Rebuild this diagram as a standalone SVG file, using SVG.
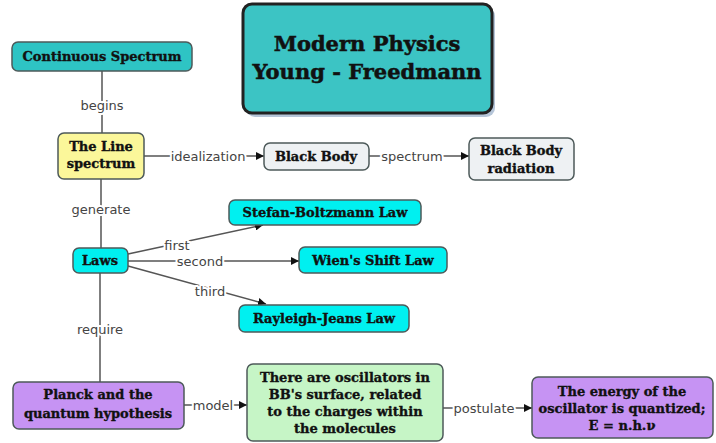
<svg xmlns="http://www.w3.org/2000/svg" width="716" height="443" viewBox="0 0 716 443">
<style>
.n{stroke:#4d5a5a;stroke-width:1.5}
.t{font-family:"DejaVu Serif","Liberation Serif",serif;font-weight:bold;font-size:13px;fill:#111;stroke:#111;stroke-width:0.35px;text-anchor:middle}
.l{font-family:"DejaVu Sans","Liberation Sans",sans-serif;font-size:13px;fill:#444;text-anchor:middle;stroke:#fff;stroke-width:4px;paint-order:stroke;stroke-linejoin:round}
.c{stroke:#555;stroke-width:1.5;fill:none}
.a{stroke:#555;stroke-width:1.5;fill:none;marker-end:url(#ar)}
</style>
<defs>
<marker id="ar" viewBox="0 0 10 10" refX="10" refY="5" markerWidth="8" markerHeight="8" markerUnits="userSpaceOnUse" orient="auto"><path d="M0,0 L10,5 L0,10 z" fill="#111"/></marker>
</defs>
<rect width="716" height="443" fill="#fff"/>
<g id="connectors">
<line class="c" x1="102" y1="71" x2="102" y2="133"/>
<text class="l" x="102" y="110">begins</text>
<line class="a" x1="144" y1="156" x2="264" y2="156"/>
<text class="l" x="208" y="161">idealization</text>
<line class="a" x1="369" y1="156" x2="469" y2="156"/>
<text class="l" x="412" y="161">spectrum</text>
<line class="c" x1="101" y1="179" x2="101" y2="248"/>
<text class="l" x="101" y="214">generate</text>
<line class="a" x1="128" y1="254" x2="263" y2="225"/>
<text class="l" x="177" y="250">first</text>
<line class="a" x1="128" y1="261" x2="299" y2="261"/>
<text class="l" x="200" y="266">second</text>
<line class="a" x1="128" y1="266" x2="266" y2="304"/>
<text class="l" x="210" y="296">third</text>
<line class="c" x1="100" y1="273" x2="100" y2="382"/>
<text class="l" x="100" y="334">require</text>
<line class="a" x1="184" y1="405" x2="247" y2="405"/>
<text class="l" x="213" y="410">model</text>
<line class="a" x1="443" y1="408" x2="532" y2="408"/>
<text class="l" x="484" y="413">postulate</text>
</g>
<g id="title">
<rect x="246" y="7" width="249" height="110" rx="9" fill="#5a7fa8" opacity="0.45"/>
<rect x="243" y="4" width="249" height="109" rx="9" fill="#3cc4c4" stroke="#222" stroke-width="3"/>
<text class="t" x="367" y="51" style="font-size:21px;stroke-width:0.5px">Modern Physics</text>
<text class="t" x="367" y="79" style="font-size:21px;stroke-width:0.5px">Young - Freedmann</text>
</g>
<g id="continuous">
<rect class="n" x="12" y="42" width="180" height="29" rx="6" fill="#2ec4c4"/>
<text class="t" x="102" y="61">Continuous Spectrum</text>
</g>
<g id="line-spectrum">
<rect class="n" x="58" y="133" width="86" height="46" rx="6" fill="#fbf79a"/>
<text class="t" x="101" y="151">The Line</text>
<text class="t" x="101" y="168">spectrum</text>
</g>
<g id="black-body">
<rect class="n" x="264" y="143" width="105" height="27" rx="6" fill="#eef1f3"/>
<text class="t" x="316" y="161">Black Body</text>
</g>
<g id="bb-radiation">
<rect class="n" x="469" y="138" width="105" height="42" rx="6" fill="#eef1f3"/>
<text class="t" x="521" y="155">Black Body</text>
<text class="t" x="521" y="173">radiation</text>
</g>
<g id="stefan">
<rect class="n" x="229" y="200" width="192" height="25" rx="6" fill="#00f0f0"/>
<text class="t" x="325" y="217">Stefan-Boltzmann Law</text>
</g>
<g id="laws">
<rect class="n" x="73" y="248" width="55" height="25" rx="6" fill="#00f0f0"/>
<text class="t" x="100" y="265">Laws</text>
</g>
<g id="wien">
<rect class="n" x="299" y="247" width="148" height="26" rx="6" fill="#00f0f0"/>
<text class="t" x="373" y="265">Wien's Shift Law</text>
</g>
<g id="rayleigh">
<rect class="n" x="239" y="305" width="170" height="27" rx="6" fill="#00f0f0"/>
<text class="t" x="324" y="323">Rayleigh-Jeans Law</text>
</g>
<g id="planck">
<rect class="n" x="13" y="382" width="171" height="47" rx="6" fill="#c693f3"/>
<text class="t" x="98" y="399">Planck and the</text>
<text class="t" x="98" y="418">quantum hypothesis</text>
</g>
<g id="oscillators">
<rect class="n" x="247" y="364" width="196" height="77" rx="6" fill="#c6f5c6"/>
<text class="t" x="345" y="382">There are oscillators in</text>
<text class="t" x="345" y="399">BB's surface, related</text>
<text class="t" x="345" y="416">to the charges within</text>
<text class="t" x="345" y="433">the molecules</text>
</g>
<g id="energy">
<rect class="n" x="532" y="377" width="181" height="61" rx="6" fill="#c693f3"/>
<text class="t" x="622" y="396">The energy of the</text>
<text class="t" x="622" y="413">oscillator is quantized;</text>
<text class="t" x="622" y="430">E = n.h.ν</text>
</g>
</svg>
